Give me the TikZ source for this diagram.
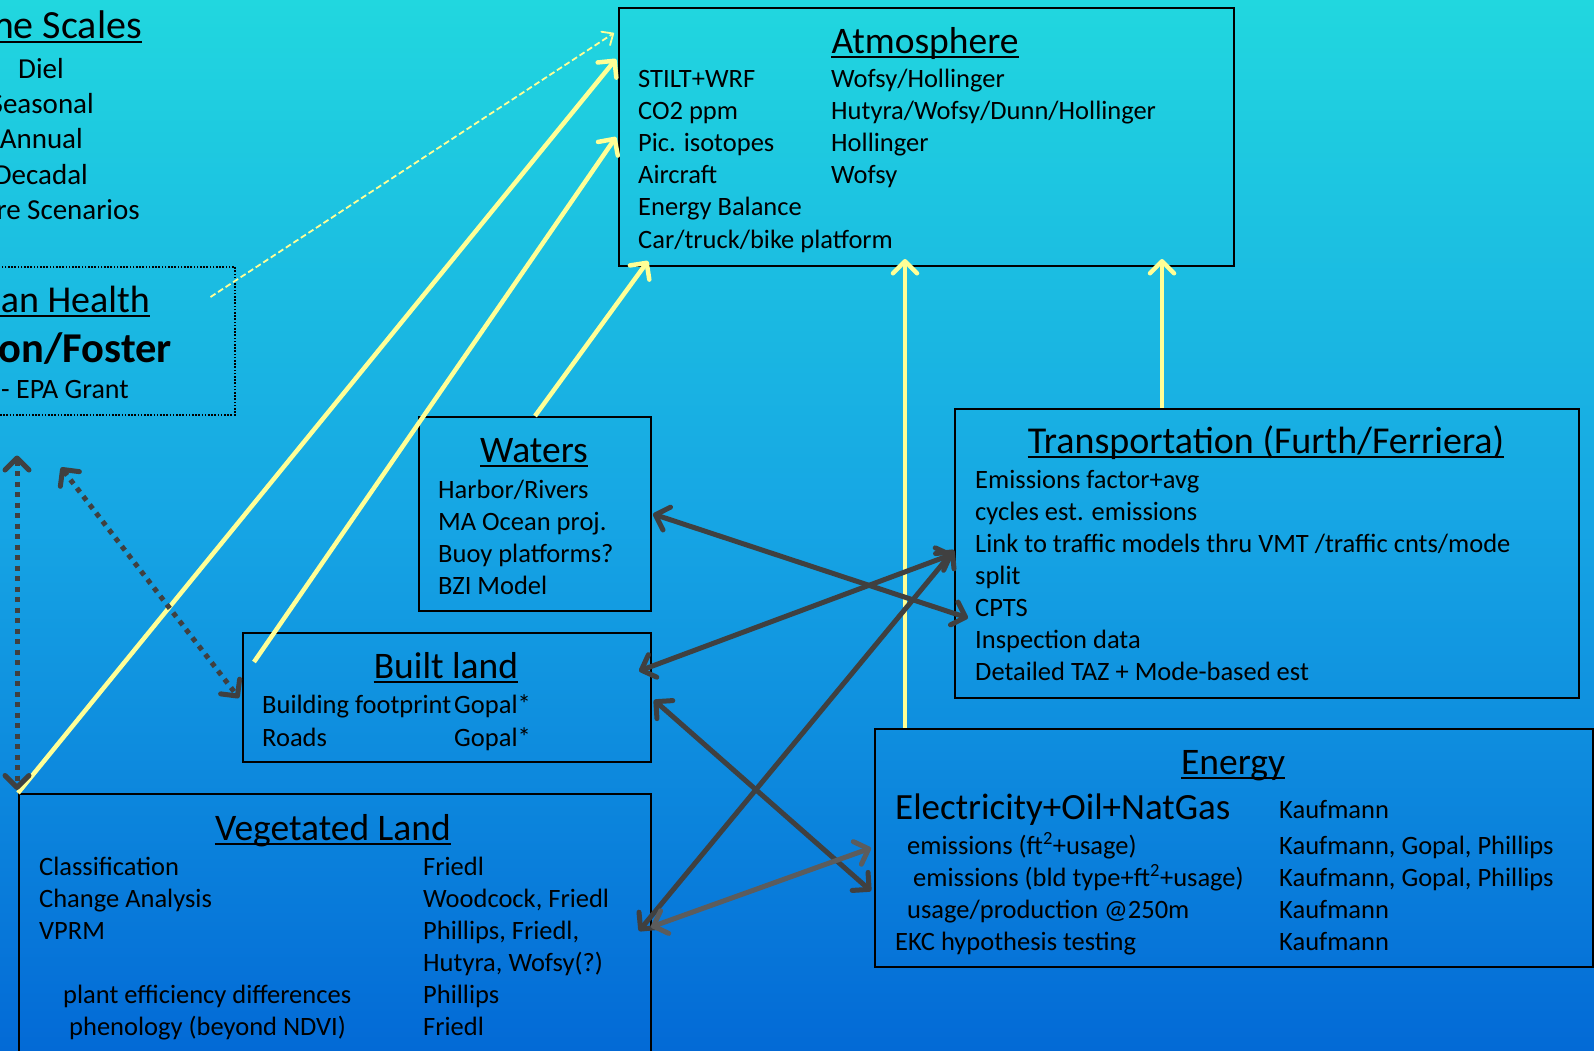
\documentclass[tikz,border=0pt]{standalone}
\usepackage{fontspec}
\setmainfont{Carlito}
\usetikzlibrary{arrows.meta,calc}
\definecolor{bgtop}{RGB}{33,215,223}
\definecolor{bgmid}{RGB}{22,165,228}
\definecolor{bgbot}{RGB}{3,106,214}
\definecolor{ylw}{RGB}{255,255,150}
\definecolor{dgray}{RGB}{64,64,64}
\definecolor{mgray}{RGB}{92,92,92}
\begin{document}
\begin{tikzpicture}[x=1pt,y=-1pt,
 body/.style={font=\fontsize{26.5}{32}\selectfont, inner sep=0pt, anchor=base west},
 bodyR/.style={font=\fontsize{26.5}{32}\selectfont, inner sep=0pt, anchor=base east},
 side/.style={font=\fontsize{29}{35}\selectfont, inner sep=0pt, anchor=base east},
 ttl/.style={font=\fontsize{37.5}{44}\selectfont, inner sep=0pt, anchor=base},
 big/.style={font=\fontsize{37}{44}\selectfont, inner sep=0pt, anchor=base west},
 box/.style={draw=black, line width=2pt, anchor=north west, inner sep=0pt},
 uline/.style={line width=2.5pt},
 ytip/.style={-{Straight Barb[length=12pt,width=24pt,round]}},
 yarrow/.style={draw=ylw, line width=4.5pt, ytip},
 ydash/.style={draw=ylw, line width=1.8pt, dash pattern=on 6pt off 3pt, -{Straight Barb[length=9pt,width=16pt,round]}},
 darrow/.style={draw=dgray, line width=5pt, {Straight Barb[length=12pt,width=24pt,round]}-{Straight Barb[length=12pt,width=24pt,round]}},
 marrow/.style={darrow, draw=mgray},
 dotarrow/.style={draw=dgray, line width=5pt, dash pattern=on 5pt off 5.5pt, {Straight Barb[length=12pt,width=24pt,round]}-{Straight Barb[length=12pt,width=24pt,round]}}
]
\useasboundingbox (0,0) rectangle (1594,1050);
\shade[top color=bgtop, bottom color=bgbot, middle color=bgmid] (0,0) rectangle (1594,1050);
\clip (0,0) rectangle (1594,1050);

% ---------- boxes ----------
\node[box, minimum width=615pt, minimum height=258pt] (atm) at (618,7) {};
\node[box, line width=1.5pt, dash pattern=on 1.6pt off 1.6pt, minimum width=254pt, minimum height=148pt] (hh) at (-20,266) {};
\node[box, minimum width=232pt, minimum height=194pt] (wat) at (418,416) {};
\node[box, minimum width=408pt, minimum height=129pt] (blt) at (242,632) {};
\node[box, minimum width=632pt, minimum height=290pt] (veg) at (18,793) {};
\node[box, minimum width=624pt, minimum height=289pt] (trn) at (954,408) {};
\node[box, minimum width=718pt, minimum height=238pt] (eng) at (874,728) {};

% ---------- Time scales ----------
\node[font=\fontsize{40}{48}\selectfont, inner sep=0pt, anchor=base east] (tsT) at (142,38) {Time Scales};
\draw[uline] ($(tsT.base west)+(0,4)$) -- ($(tsT.base east)+(0,4)$);
\node[side] (ts1) at (64,78) {Diel};
\node[side] (ts2) at (94,113) {Seasonal};
\node[side] (ts3) at (83,148) {Annual};
\node[side] (ts4) at (88,184) {Decadal};
\node[side] (ts5) at (140,219) {Future Scenarios};

% ---------- Human health ----------
\node[font=\fontsize{38}{46}\selectfont, inner sep=0pt, anchor=base east] (hhT) at (150,312) {Human Health};
\draw[uline] ($(hhT.base west)+(0,4)$) -- ($(hhT.base east)+(0,4)$);
\node[font=\fontsize{42.5}{50}\selectfont\bfseries, inner sep=0pt, anchor=base east] (hh1) at (172,362) {on/Foster};
\node[side, font=\fontsize{28}{34}\selectfont] (hh2) at (129,398) {- EPA Grant};

% ---------- Atmosphere ----------
\node[ttl] (atmT) at (925,53) {Atmosphere};
\draw[uline] ($(atmT.base west)+(0,4)$) -- ($(atmT.base east)+(0,4)$);
\foreach \t [count=\i] in {STILT+WRF, CO2 ppm, Pic. isotopes, Aircraft, Energy Balance, Car/truck/bike platform}
  \node[body] (atmL\i) at (638,{87+32.2*(\i-1)}) {\t};
\foreach \t [count=\i] in {Wofsy/Hollinger, Hutyra/Wofsy/Dunn/Hollinger, Hollinger, Wofsy}
  \node[body] (atmR\i) at (831,{87+32.2*(\i-1)}) {\t};

% ---------- Waters ----------
\node[ttl] (watT) at (534,462) {Waters};
\draw[uline] ($(watT.base west)+(0,4)$) -- ($(watT.base east)+(0,4)$);
\foreach \t [count=\i] in {Harbor/Rivers, MA Ocean proj., Buoy platforms?, BZI Model}
  \node[body] (watL\i) at (438,{498+32*(\i-1)}) {\t};

% ---------- Built land ----------
\node[ttl] (bltT) at (446,678) {Built land};
\draw[uline] ($(bltT.base west)+(0,4)$) -- ($(bltT.base east)+(0,4)$);
\node[body] (blt1) at (262,713) {Building footprint};
\node[body] (blt2) at (262,746) {Roads};
\node[body] (blt3) at (454,713) {Gopal*};
\node[body] (blt4) at (454,746) {Gopal*};

% ---------- Vegetated land ----------
\node[ttl] (vegT) at (333,840) {Vegetated Land};
\draw[uline] ($(vegT.base west)+(0,4)$) -- ($(vegT.base east)+(0,4)$);
\foreach \t [count=\i] in {Classification, Change Analysis, VPRM}
  \node[body] (vegL\i) at (39,{875+32*(\i-1)}) {\t};
\node[body] (vegL4) at (63,1003) {plant efficiency differences};
\node[body] (vegL5) at (69,1035) {phenology (beyond NDVI)};
\foreach \t [count=\i] in {Friedl, {Woodcock, Friedl}, {Phillips, Friedl,}, {Hutyra, Wofsy(?)}, Phillips, Friedl}
  \node[body] (vegR\i) at (423,{875+32*(\i-1)}) {\t};

% ---------- Transportation ----------
\node[ttl, font=\fontsize{38}{45}\selectfont] (trnT) at (1266,453) {Transportation (Furth/Ferriera)};
\draw[uline] ($(trnT.base west)+(0,4)$) -- ($(trnT.base east)+(0,4)$);
\foreach \t [count=\i] in {Emissions factor+avg, cycles est. emissions, Link to traffic models thru VMT /traffic cnts/mode, split, CPTS, Inspection data, Detailed TAZ + Mode-based est}
  \node[body] (trnL\i) at (975,{488+32*(\i-1)}) {\t};

% ---------- Energy ----------
\node[ttl] (engT) at (1233,774) {Energy};
\draw[uline] ($(engT.base west)+(0,4)$) -- ($(engT.base east)+(0,4)$);
\node[big] (eng0) at (895,819) {Electricity+Oil+NatGas};
\node[body] (eng1) at (907,854) {emissions (ft\textsuperscript{2}+usage)};
\node[body] (eng2) at (913,886) {emissions (bld type+ft\textsuperscript{2}+usage)};
\node[body] (eng3) at (907,918) {usage/production @250m};
\node[body] (eng4) at (895,950) {EKC hypothesis testing};
\node[body] (engR0) at (1279,818) {Kaufmann};
\node[body] (engR1) at (1279,854) {Kaufmann, Gopal, Phillips};
\node[body] (engR2) at (1279,886) {Kaufmann, Gopal, Phillips};
\node[body] (engR3) at (1279,918) {Kaufmann};
\node[body] (engR4) at (1279,950) {Kaufmann};

% ---------- connector end points ----------
\coordinate (aW1) at ($(atm.north west)+(-4,26)$);
\coordinate (aW2) at ($(atm.north west)+(-2,52)$);
\coordinate (aW3) at ($(atm.north west)+(-2,130)$);
\coordinate (aS1) at ($(atm.south west)+(30,-6)$);
\coordinate (aS2) at ($(atm.south west)+(287,-8)$);
\coordinate (aS3) at ($(atm.south west)+(544,-8)$);
\coordinate (hhS) at ($(hh.north east)+(-25,31)$);
\coordinate (bltS) at ($(blt.north west)+(12,30)$);
\coordinate (watS) at ($(wat.north west)+(117,0)$);
\coordinate (engS) at ($(eng.north west)+(31,0)$);
\coordinate (trnS) at ($(trn.north west)+(208,0)$);
\coordinate (vegS) at (veg.north west);

\coordinate (watE) at ($(wat.north east)+(1,98)$);
\coordinate (trnA) at ($(trn.north west)+(14,210)$);
\coordinate (bltE1) at ($(blt.north east)+(-13,39)$);
\coordinate (trnB) at ($(trn.north west)+(-1,146)$);
\coordinate (bltE2) at ($(blt.north east)+(2,68)$);
\coordinate (engA) at ($(eng.north west)+(-3,163)$);
\coordinate (vegE1) at ($(veg.north east)+(-13,138)$);
\coordinate (trnC) at ($(trn.north west)+(0,142)$);
\coordinate (vegE2) at ($(veg.north east)+(-1,134)$);
\coordinate (engB) at ($(eng.north west)+(-3,120)$);
\coordinate (hhB) at ($(hh.south west)+(37,40)$);
\coordinate (vegC) at ($(veg.north west)+(-1,-3)$);
\coordinate (hhC) at ($(hh.south west)+(81,52)$);
\coordinate (bltW) at ($(blt.north west)+(-3,66)$);

% ---------- yellow connectors ----------
\draw[ydash] (hhS) -- (aW1);
\draw[yarrow] (vegS) -- (aW2);
\draw[yarrow] (bltS) -- (aW3);
\draw[yarrow] (watS) -- (aS1);
\draw[yarrow] (engS) -- (aS2);
\draw[yarrow] (trnS) -- (aS3);

% ---------- gray connectors ----------
\draw[darrow] (watE) -- (trnA);
\draw[darrow] (bltE1) -- (trnB);
\draw[darrow] (bltE2) -- (engA);
\draw[darrow] (vegE1) -- (trnC);
\draw[marrow] (vegE2) -- (engB);
\draw[dotarrow] (hhB) -- (vegC);
\draw[dotarrow] (hhC) -- (bltW);
\end{tikzpicture}
\end{document}
